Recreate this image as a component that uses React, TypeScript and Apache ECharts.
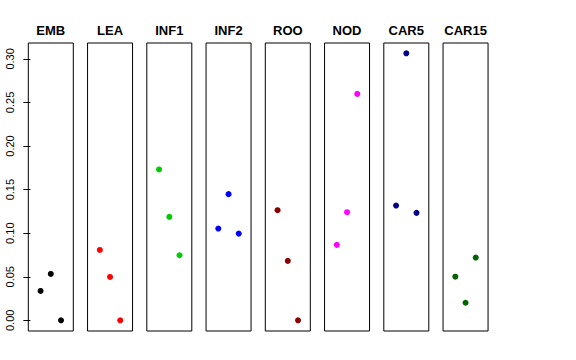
import React, { useEffect, useRef } from "react";
import * as echarts from "echarts";

const panels = ["EMB", "LEA", "INF1", "INF2", "ROO", "NOD", "CAR5", "CAR15"];
const colors = ["#000000", "#FF0000", "#00CD00", "#0000FF", "#8B0000", "#FF00FF", "#00008B", "#006400"];
const positions = [1, 2, 3];
const valuesEMB = [0.0337, 0.0532, 0.0];
const valuesLEA = [0.0808, 0.0498, 0.0];
const valuesINF1 = [0.1731, 0.1187, 0.0747];
const valuesINF2 = [0.1053, 0.1448, 0.0995];
const valuesROO = [0.1264, 0.0682, 0.0];
const valuesNOD = [0.0866, 0.1241, 0.2598];
const valuesCAR5 = [0.1317, 0.3064, 0.1233];
const valuesCAR15 = [0.0501, 0.0202, 0.072];
const allValues = [valuesEMB, valuesLEA, valuesINF1, valuesINF2, valuesROO, valuesNOD, valuesCAR5, valuesCAR15];
const yTicks = [0, 0.05, 0.1, 0.15, 0.2, 0.25, 0.3];

const FONT = "Liberation Sans, Arial, Helvetica, sans-serif";

export default function App() {
  const ref = useRef<HTMLDivElement>(null);
  useEffect(() => {
    if (!ref.current) return;
    const chart = echarts.init(ref.current, undefined, { renderer: "svg" });
    const left0 = 28.3;
    const step = 59.25;
    const w = 45;
    const top = 43;
    const h = 288;
    const grids = panels.map((_, i) => ({
      left: left0 + i * step,
      top,
      width: w,
      height: h,
      show: true,
      borderColor: "#000",
      borderWidth: 1,
      backgroundColor: "transparent",
      containLabel: false,
    }));
    const xAxes = panels.map((_, i) => ({
      type: "value",
      gridIndex: i,
      min: -0.2,
      max: 4.2,
      show: false,
    }));
    const yAxes = panels.map((_, i) => ({
      type: "value",
      gridIndex: i,
      min: -0.01224,
      max: 0.3182,
      show: i === 0,
      splitLine: { show: false },
      axisLine: { show: false },
      axisTick: {
        show: true,
        length: 7,
        inside: false,
        customValues: yTicks,
        lineStyle: { color: "#000", width: 1 },
      },
      axisLabel: {
        show: true,
        customValues: yTicks,
        rotate: 90,
        margin: 13,
        color: "#000",
        fontSize: 11,
        fontFamily: FONT,
        formatter: (v: number) => v.toFixed(2),
      },
    }));
    const titleGraphics = panels.map((name, i) => ({
      type: "text",
      x: left0 + i * step + w / 2,
      y: 30,
      style: {
        text: name,
        fill: "#000",
        font: `bold 13px ${FONT}`,
        textAlign: "center",
        textVerticalAlign: "middle",
      },
    }));
    const series = panels.map((name, i) => ({
      type: "scatter",
      name,
      xAxisIndex: i,
      yAxisIndex: i,
      symbol: "circle",
      symbolSize: 6,
      itemStyle: { color: colors[i], opacity: 1 },
      data: positions.map((p, j) => [p, allValues[i][j]]),
    }));
    chart.setOption({
      animation: false,
      backgroundColor: "#fff",
      graphic: titleGraphics,
      grid: grids,
      xAxis: xAxes,
      yAxis: yAxes,
      series,
    });
    return () => chart.dispose();
  }, []);
  return <div ref={ref} style={{ position: "fixed", left: 0, top: 0, width: 576, height: 360 }} />;
}
